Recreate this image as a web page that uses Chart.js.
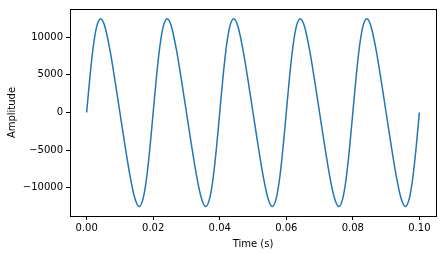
<!DOCTYPE html>
<html>
<head>
<meta charset="utf-8">
<script src="https://cdn.jsdelivr.net/npm/chart.js@4/dist/chart.umd.min.js"></script>
<style>
  body { margin: 0; background: #fff; }
  #wave { display: block; }
</style>
</head>
<body>
<canvas id="wave" width="442" height="255"></canvas>
<script>
// time samples (s) (peaks near x.x042, troughs near x.x158)
const times = [
  0, 0.001, 0.002, 0.003, 0.0042, 0.0055, 0.007, 0.0085, 0.01, 0.0115, 0.013, 0.0145, 0.0158, 0.017, 0.018, 0.019,
  0.02, 0.021, 0.022, 0.023, 0.0242, 0.0255, 0.027, 0.0285, 0.03, 0.0315, 0.033, 0.0345, 0.0358, 0.037, 0.038, 0.039,
  0.04, 0.041, 0.042, 0.043, 0.0442, 0.0455, 0.047, 0.0485, 0.05, 0.0515, 0.053, 0.0545, 0.0558, 0.057, 0.058, 0.059,
  0.06, 0.061, 0.062, 0.063, 0.0642, 0.0655, 0.067, 0.0685, 0.07, 0.0715, 0.073, 0.0745, 0.0758, 0.077, 0.078, 0.079,
  0.08, 0.081, 0.082, 0.083, 0.0842, 0.0855, 0.087, 0.0885, 0.09, 0.0915, 0.093, 0.0945, 0.0958, 0.097, 0.098, 0.099,
  0.1
];
// amplitude at each sample
const amplitude = [
  0, 4785, 8765, 11375, 12450, 11400, 8317, 4297, 0, -4297, -8317, -11400, -12500, -11375, -8765, -4785,
  0, 4785, 8765, 11375, 12450, 11400, 8317, 4297, 0, -4297, -8317, -11400, -12500, -11375, -8765, -4785,
  0, 4785, 8765, 11375, 12450, 11400, 8317, 4297, 0, -4297, -8317, -11400, -12500, -11375, -8765, -4785,
  0, 4785, 8765, 11375, 12450, 11400, 8317, 4297, 0, -4297, -8317, -11400, -12500, -11375, -8765, -4785,
  0, 4785, 8765, 11375, 12450, 11400, 8317, 4297, 0, -4297, -8317, -11400, -12500, -11375, -8765, -4785,
  0
];
const xTicks = [0, 0.02, 0.04, 0.06, 0.08, 0.10];
const yTicks = [-10000, -5000, 0, 5000, 10000];

const points = times.map((t, i) => ({ x: t, y: amplitude[i] }));

// draw the full box around the plot area like matplotlib spines
const frame = {
  id: 'frame',
  afterDraw(chart) {
    const a = chart.chartArea, ctx = chart.ctx;
    ctx.save();
    ctx.strokeStyle = '#000';
    ctx.lineWidth = 1;
    ctx.strokeRect(Math.round(a.left) + 0.5, Math.round(a.top) + 0.5,
      Math.round(a.right - a.left), Math.round(a.bottom - a.top));
    ctx.restore();
  }
};

Chart.defaults.font.family = 'DejaVu Sans';
Chart.defaults.font.size = 10;
Chart.defaults.color = '#000';

new Chart(document.getElementById('wave'), {
  type: 'line',
  data: {
    datasets: [{
      data: points,
      borderColor: '#1f77b4',
      borderWidth: 1.5,
      pointRadius: 0,
      cubicInterpolationMode: 'monotone',
      fill: false
    }]
  },
  options: {
    responsive: false,
    animation: false,
    layout: { padding: { top: 8, right: 6, left: 0, bottom: 0 } },
    plugins: { legend: { display: false }, tooltip: { enabled: false } },
    scales: {
      x: {
        type: 'linear',
        min: -0.005,
        max: 0.105,
        afterBuildTicks: s => { s.ticks = xTicks.map(v => ({ value: v })); },
        afterFit: s => { s.height = 39; },
        grid: { drawOnChartArea: false, tickLength: 4, color: '#000' },
        border: { display: false },
        ticks: { padding: 2, maxRotation: 0, callback: v => v.toFixed(2) },
        title: { display: true, text: 'Time (s)', padding: { top: 1, bottom: 5 } }
      },
      y: {
        min: -13750,
        max: 13750,
        afterBuildTicks: s => { s.ticks = yTicks.map(v => ({ value: v })); },
        afterFit: s => { s.width = 70; },
        grid: { drawOnChartArea: false, tickLength: 4, color: '#000' },
        border: { display: false },
        ticks: { padding: 3, callback: v => String(v).replace('-', '\u2212') },
        title: { display: true, text: 'Amplitude', padding: { top: 6, bottom: 2 } }
      }
    }
  },
  plugins: [frame]
});
</script>
</body>
</html>
